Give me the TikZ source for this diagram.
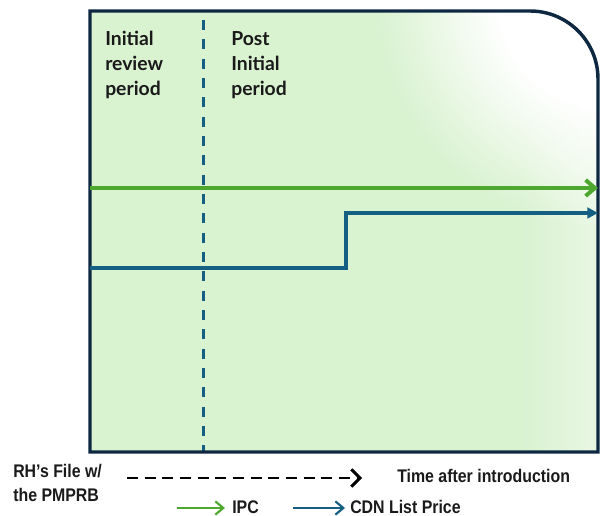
\documentclass[tikz,border=0pt]{standalone}
\usepackage{fontspec}
\setmainfont{Lato}
\newfontfamily\narrowfont[FakeStretch=0.87]{Liberation Sans}
\usetikzlibrary{arrows.meta,fadings}
\definecolor{boxgreen}{HTML}{D9F2D0}
\definecolor{navy}{HTML}{0E2841}
\definecolor{ipcgreen}{HTML}{4EA72E}
\definecolor{cdnblue}{HTML}{156082}
\definecolor{txt}{HTML}{1A1A1A}
\pgfdeclareradialshading{glow}{\pgfpoint{0bp}{0bp}}{color(0bp)=(white); color(10bp)=(white); color(22bp)=(boxgreen); color(50bp)=(boxgreen)}
\tikzset{
  toplabel/.style={anchor=base west, inner sep=0pt, text=txt, font=\bfseries\fontsize{14.5pt}{17pt}\selectfont},
  botlabel/.style={anchor=base west, inner sep=0pt, text=txt, font=\narrowfont\bfseries\fontsize{13.7pt}{16pt}\selectfont},
  ipcline/.style={draw=ipcgreen, line width=3pt, -{Straight Barb[length=7pt,width=12pt]}},
  cdnline/.style={draw=cdnblue, line width=2.5pt, line join=miter, -{Triangle[length=8pt,width=8pt]}},
  divider/.style={draw=cdnblue, line width=2.25pt, dash pattern=on 7.5pt off 7pt},
  timeline/.style={draw=black, line width=2.2pt, dash pattern=on 8.25pt off 5pt, -{Straight Barb[length=6.5pt,width=13pt]}},
  legipc/.style={draw=ipcgreen, line width=1.6pt, -{Straight Barb[length=6pt,width=10pt]}},
  legcdn/.style={draw=cdnblue, line width=1.6pt, -{Straight Barb[length=6pt,width=10pt]}},
}
\begin{document}
\begin{tikzpicture}[x=0.75pt,y=0.75pt]
\useasboundingbox (0,0) rectangle (606,516);
% box fill
\fill[boxgreen] (90,64) -- (90,505) -- (530,505) arc[start angle=90,end angle=0,radius=68] -- (598,64) -- cycle;
\begin{scope}
  \clip (90,64) -- (90,505) -- (530,505) arc[start angle=90,end angle=0,radius=68] -- (598,64) -- cycle;
  \shade[shading=glow] (605,516) circle (260);
  \fill[white, path fading=west, opacity=0.5] (520,64) rectangle (610,516);
\end{scope}
% divider
\coordinate (d0) at (203,496);
\coordinate (d1) at (203,64);
\draw[divider] (d0) -- (d1);
% box outline
\draw[navy, line width=2.6pt] (90,64) -- (90,505) -- (530,505) arc[start angle=90,end angle=0,radius=68] -- (598,64) -- cycle;
% IPC line
\coordinate (g0) at (90,328);
\coordinate (g1) at (598,328);
\draw[ipcline] (g0) -- (g1);
% CDN line
\coordinate (b0) at (90,248);
\coordinate (bs) at (346,303);
\coordinate (b1) at (598,303);
\draw[cdnline] (b0) -| (bs) -- (b1);
% top labels
\node[toplabel] (i1) at (105,470) {Initial};
\node[toplabel] (i2) at (105,445) {review};
\node[toplabel] (i3) at (105,420) {period};
\node[toplabel] (p1) at (231,470) {Post};
\node[toplabel] (p2) at (231,445) {Initial};
\node[toplabel] (p3) at (231,420) {period};
% bottom
\node[botlabel] (r1) at (13,38) {RH’s File w/};
\node[botlabel] (r2) at (13,14) {the PMPRB};
\coordinate (k0) at (127,38);
\coordinate (k1) at (362,38);
\draw[timeline] (k0) -- (k1);
\node[botlabel] (tl) at (397,33) {Time after introduction};
% legend
\coordinate (lg0) at (177,8);
\coordinate (lg1) at (225,8);
\draw[legipc] (lg0) -- (lg1);
\node[botlabel] (lipc) at (232,2) {IPC};
\coordinate (lb0) at (293,8);
\coordinate (lb1) at (345,8);
\draw[legcdn] (lb0) -- (lb1);
\node[botlabel] (lcdn) at (350,2) {CDN List Price};
\end{tikzpicture}
\end{document}
